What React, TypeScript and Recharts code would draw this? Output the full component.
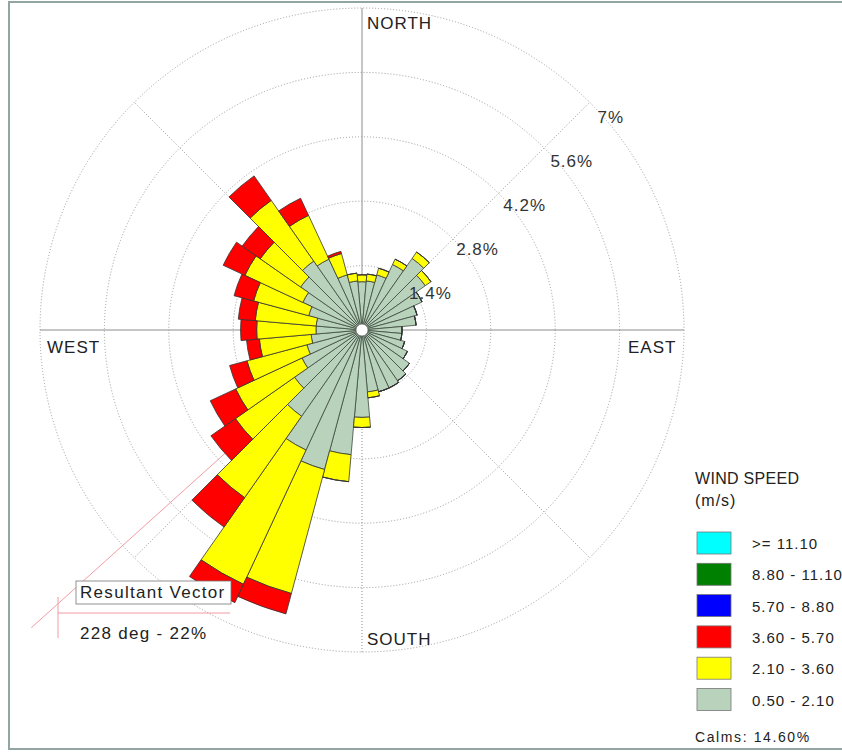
import React from "react";
import {
  RadialBarChart,
  RadialBar,
  PolarGrid,
  PolarAngleAxis,
  PolarRadiusAxis,
} from "recharts";

// compass direction of each 10 degree sector (0 = north, clockwise)
const directions = [
  0, 10, 20, 30, 40, 50, 60, 70, 80, 90, 100, 110, 120, 130, 140, 150, 160, 170,
  180, 190, 200, 210, 220, 230, 240, 250, 260, 270, 280, 290, 300, 310, 320, 330,
  340, 350,
];

// frequency (%) per speed class
const speed050to210 = [
  1.05, 1.07, 1.24, 1.57, 1.9, 1.68, 1.44, 1.24, 1.18, 0.87, 0.87, 0.96, 1.09, 1.26,
  1.35, 1.39, 1.39, 1.35, 1.9, 2.72, 3.14, 2.88, 2.29, 1.79, 1.44, 1.24, 1.11, 1.0,
  1.0, 1.2, 1.42, 1.63, 1.83, 1.7, 1.24, 1.07,
];
const speed210to360 = [
  0.15, 0.15, 0.15, 0.13, 0.17, 0.15, 0, 0, 0, 0, 0, 0, 0, 0, 0, 0, 0, 0.13, 0.22,
  0.59, 2.79, 3.22, 2.16, 1.57, 1.59, 1.35, 1.13, 1.29, 1.33, 1.24, 1.39, 1.07, 1.61,
  1.05, 0.48, 0.17,
];
const speed360to570 = [
  0, 0, 0, 0, 0, 0, 0, 0, 0, 0, 0, 0, 0, 0, 0, 0, 0, 0, 0, 0, 0.46, 0.44, 0.78, 0.65,
  0.61, 0.39, 0.28, 0.35, 0.37, 0.44, 0.52, 0.48, 0.65, 0.41, 0.05, 0,
];

const radiusTicks = [1.4, 2.8, 4.2, 5.6, 7];
const radiusMax = 7;

const legendLabels = [">= 11.10", "8.80 - 11.10", "5.70 - 8.80", "3.60 - 5.70", "2.10 - 3.60", "0.50 - 2.10"];
const legendColors = ["#00ffff", "#008000", "#0000ff", "#ff0000", "#ffff00", "#b8d2bc"];

const calms = 14.6;
const resultantDeg = 228;
const resultantPct = 22;

const FONT = "'Liberation Sans', Arial, sans-serif";
const CX = 362;
const CY = 330;
const OUTER = 322;
const TICK_BEARING = 47; // compass bearing of the ring labels

const data = directions.map((dir, i) => ({
  dir,
  low: speed050to210[i],
  mid: speed210to360[i],
  high: speed360to570[i],
}));

const compass = (r: number, deg: number): [number, number] => {
  const a = (deg * Math.PI) / 180;
  return [CX + r * Math.sin(a), CY - r * Math.cos(a)];
};

export default function App() {
  const vecEnd = compass(445, resultantDeg);
  const diagonals = [45, 135, 225, 315];

  return (
    <div style={{ position: "absolute", left: 0, top: 0, width: 842, height: 752, background: "#fff" }}>
      {/* grid lines that sit behind the bars */}
      <svg width={842} height={752} style={{ position: "absolute", left: 0, top: 0 }}>
        <rect x={9} y={2} width={840} height={747} fill="#fff" stroke="#93a5a3" strokeWidth={2} />
        <line x1={CX - OUTER} y1={CY} x2={CX + OUTER} y2={CY} stroke="#8c8c8c" />
        <line x1={CX} y1={CY - OUTER} x2={CX} y2={CY} stroke="#8c8c8c" />
        <line x1={CX} y1={CY} x2={CX} y2={CY + OUTER} stroke="#8c8c8c" strokeDasharray="1 2" />
        {diagonals.map((d) => {
          const [x1, y1] = compass(OUTER / 5, d);
          const [x2, y2] = compass(OUTER, d);
          return <line key={d} x1={x1} y1={y1} x2={x2} y2={y2} stroke="#999" strokeDasharray="1 2" />;
        })}
        <line x1={CX} y1={CY} x2={vecEnd[0]} y2={vecEnd[1]} stroke="#f29aa4" />
        <line x1={58} y1={613} x2={230} y2={613} stroke="#f29aa4" />
        <line x1={58} y1={597} x2={58} y2={638} stroke="#f29aa4" />
      </svg>

      <div style={{ position: "absolute", left: 0, top: 0 }}>
        <RadialBarChart
          width={842}
          height={752}
          cx={CX}
          cy={CY}
          innerRadius={0}
          outerRadius={OUTER}
          data={data}
          layout="centric"
          startAngle={85}
          endAngle={-275}
          barCategoryGap={0}
          barGap={0}
        >
          <PolarGrid gridType="circle" radialLines={false} stroke="#9a9a9a" strokeDasharray="1 2" />
          <PolarAngleAxis type="category" dataKey="dir" tick={false} axisLine={false} tickLine={false} />
          <PolarRadiusAxis
            type="number"
            domain={[0, radiusMax]}
            ticks={radiusTicks}
            angle={90 - TICK_BEARING}
            axisLine={false}
            tickLine={false}
            tick={false}
          />
          <RadialBar dataKey="low" stackId="w" fill="#b8d2bc" stroke="#3c4a3e" strokeWidth={0.8} isAnimationActive={false} />
          <RadialBar dataKey="mid" stackId="w" fill="#ffff00" stroke="#333" strokeWidth={0.8} isAnimationActive={false} />
          <RadialBar dataKey="high" stackId="w" fill="#ff0000" stroke="#333" strokeWidth={0.8} isAnimationActive={false} />
        </RadialBarChart>
      </div>

      {/* labels and legend drawn over the rose */}
      <svg width={842} height={752} style={{ position: "absolute", left: 0, top: 0, pointerEvents: "none" }} fontFamily={FONT} fill="#222">
        <circle cx={CX} cy={CY} r={6} fill="#fff" stroke="#777" strokeWidth={0.8} />
        {radiusTicks.map((t) => {
          const [x, y] = compass((t / radiusMax) * OUTER, TICK_BEARING);
          return (
            <text key={t} x={x} y={y + 13} fontSize={17} letterSpacing={1} fill="#333">{`${t}%`}</text>
          );
        })}
        <text x={367} y={29} fontSize={17} letterSpacing={1}>NORTH</text>
        <text x={367} y={645} fontSize={17} letterSpacing={1}>SOUTH</text>
        <text x={47} y={353} fontSize={17} letterSpacing={1}>WEST</text>
        <text x={628} y={353} fontSize={17} letterSpacing={1}>EAST</text>

        <rect x={76} y={581} width={155} height={23} fill="#fff" stroke="#777" strokeWidth={0.8} />
        <text x={80} y={598} fontSize={17} letterSpacing={1.3}>Resultant Vector</text>
        <text x={80} y={639} fontSize={17} letterSpacing={1.3}>{`${resultantDeg} deg - ${resultantPct}%`}</text>

        <text x={695} y={484} fontSize={16} letterSpacing={0.3}>WIND SPEED</text>
        <text x={695} y={506} fontSize={16} letterSpacing={1}>(m/s)</text>
        {legendLabels.map((label, i) => (
          <g key={label}>
            <rect x={697} y={532 + i * 31.3} width={34} height={22} fill={legendColors[i]} stroke="#777" strokeWidth={0.8} />
            <text x={752} y={549 + i * 31.3} fontSize={15} letterSpacing={1}>{label}</text>
          </g>
        ))}
        <text x={695} y={742} fontSize={14} letterSpacing={1.6}>{`Calms: ${calms.toFixed(2)}%`}</text>
      </svg>
    </div>
  );
}
